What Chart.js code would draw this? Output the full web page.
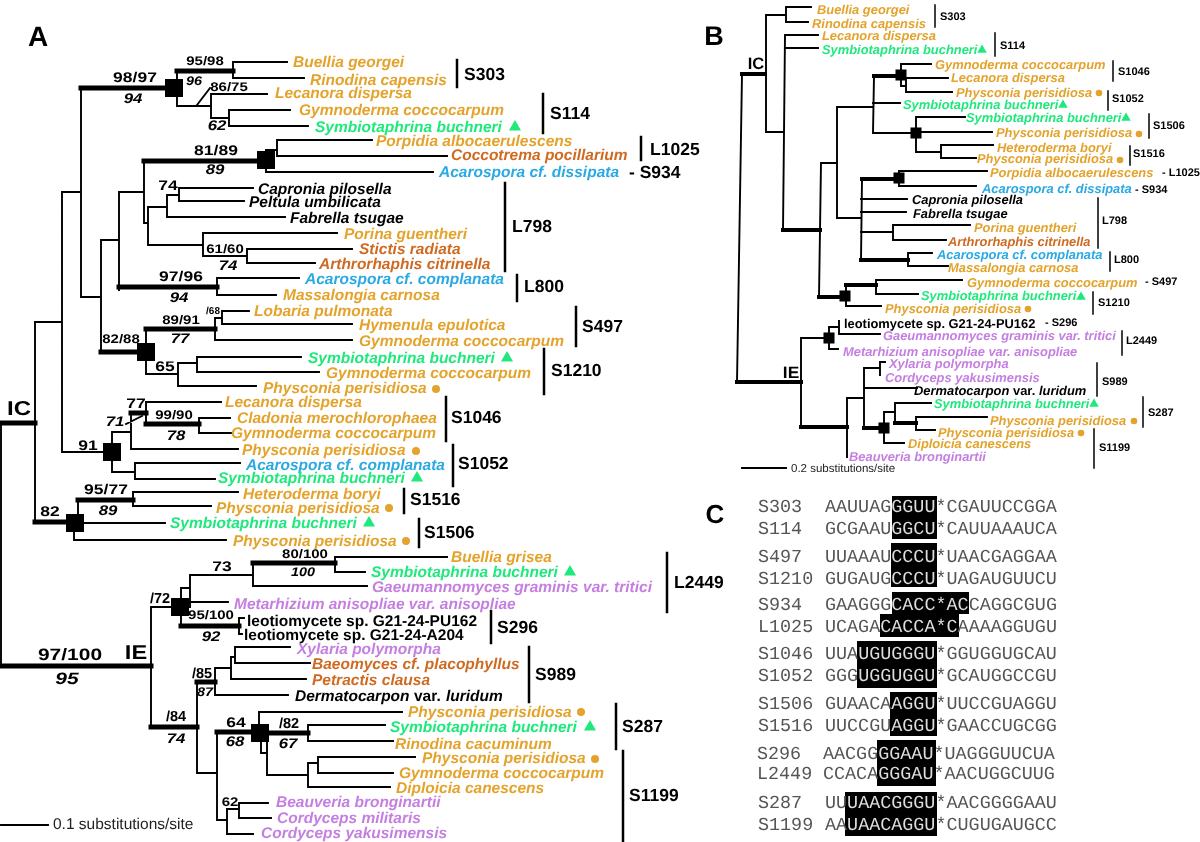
<!DOCTYPE html>
<html>
<head>
<meta charset="utf-8">
<title>Intron phylogeny</title>
<script src="https://cdn.jsdelivr.net/npm/chart.js@4"></script>
<style>
  body { margin: 0; background: #fff; }
  #wrap { width: 1200px; height: 842px; }
  /* the source figure is a soft jpeg */
  #myChart { filter: blur(0.35px); }
</style>
</head>
<body>
<div id="wrap"><canvas id="myChart" width="1200" height="842"></canvas></div>
<script>
// tree branches, x1 y1 x2 y2 in figure units
const thinBranches = [
  // panel A, IC part
  [81,88,81,297],[81,297,101,297],[62,192,62,452],[62,192,81,192],[35,322,62,322],[35,322,35,522],[1,423,1,666],
  [177,71,177,106],[177,106,211,106],[211,94,211,118],[211,94,267,94],[211,118,229,118],[229,110,229,126],[229,110,290,110],[229,126,308,126],
  [233,62,233,78],[233,62,287,62],[233,78,304,78],[197,105,210,88],
  [101,240,101,352],[101,240,119,240],[119,192,119,287],[119,192,144,192],[144,161,144,223],
  [266,150,266,172],[266,150,277,150],[277,140,277,156],[277,140,372,140],[277,156,447,156],[266,172,433,172],
  [144,223,148,223],[148,207,148,245],[148,207,167,207],[167,195,167,217],[167,195,179,195],[179,188,179,201],[179,188,253,188],[179,201,244,201],[167,217,285,217],
  [148,245,203,245],[203,233,203,256],[203,233,337,233],[203,256,247,256],[247,249,247,263],[247,249,352,249],[247,263,315,263],
  [119,287,119,290],[217,278,217,295],[217,278,299,278],[217,295,276,295],
  [146,329,146,374],[215,318,215,340],[215,318,222,318],[222,311,222,324],[222,311,249,311],[222,324,352,324],[215,340,352,340],
  [146,374,178,374],[178,363,178,386],[178,363,197,363],[197,357,197,372],[197,357,301,357],[197,372,319,372],[178,386,256,386],
  [62,452,103,452],[112,432,112,472],[112,432,131,432],[131,413,131,449],[146,402,146,424],[146,402,221,402],[199,418,199,433],[199,418,230,418],[199,433,231,433],[131,449,238,449],
  [112,472,135,472],[135,463,135,479],[135,463,240,463],[135,479,215,479],[126,424,142,416],
  [78,500,78,514],[133,492,133,506],[133,492,238,492],[133,506,211,506],[75,523,165,523],[74,523,74,540],[74,540,226,540],
  // panel A, IE part
  [151,607,151,727],[151,607,172,607],[190,575,190,607],[190,575,253,575],[253,563,253,586],[335,557,335,572],[335,557,447,557],[335,572,365,572],[253,586,367,586],
  [189,602,228,602],[181,588,190,588],[181,588,181,607],[181,607,181,626],[239,618,239,634],[239,618,244,618],[239,634,242,634],
  [197,682,197,773],[215,668,215,695],[215,668,231,668],[231,657,231,679],[231,657,235,657],[235,647,235,663],[235,647,290,647],[235,663,310,663],[231,679,306,679],[215,695,288,695],
  [197,773,217,773],[217,732,217,820],[259,712,259,724],[259,712,402,712],[308,725,308,741],[308,725,385,725],[308,741,393,741],
  [267,742,267,775],[261,742,261,753],[261,753,267,753],[267,775,308,775],[308,763,308,787],[308,763,318,763],[318,757,318,773],[318,757,415,757],[318,773,393,773],[308,787,390,787],
  [217,820,227,820],[227,809,227,834],[227,809,239,809],[239,803,239,818],[239,803,268,803],[239,818,271,818],[227,834,253,834],
  // panel A scale
  [1,825,48,825],
  // panel B, IC part
  [742,74,737,382],[766,15,766,132],[766,15,786,15],[786,7,786,22],[786,7,811,7],[786,22,808,22],[766,132,784,132],[785,35,783,230],[785,35,818,35],[785,48,818,48],
  [821,163,819,297],[821,163,837,163],[837,107,837,218],[837,107,873,107],[874,76,873,133],[901,64,901,86],[901,64,931,64],[906,78,948,78],[906,78,906,92],[901,86,906,86],[906,92,952,92],[873,103,900,103],
  [874,133,911,133],[916,117,916,152],[916,117,965,117],[922,132,992,132],[916,152,941,152],[941,145,941,158],[941,145,993,145],[941,158,976,158],
  [837,218,861,218],[862,179,861,260],[899,171,899,186],[899,171,987,171],[899,186,976,186],[861,199,907,199],[861,212,906,212],[861,232,893,232],[893,225,893,240],[893,225,970,225],[893,240,946,240],
  [908,253,908,266],[908,253,932,253],[908,266,948,266],[846,285,846,306],[876,280,876,294],[876,280,962,280],[876,294,918,294],[846,306,881,306],
  // panel B, IE part
  [801,338,801,427],[801,338,824,338],[829,327,829,349],[829,327,839,327],[839,321,839,334],[839,334,880,334],[829,349,838,349],
  [847,398,847,457],[847,398,864,398],[864,368,864,428],[864,368,880,368],[880,362,880,375],[880,362,885,362],[864,388,917,388],
  [884,412,884,443],[884,412,895,412],[895,403,895,423],[895,403,931,403],[916,417,916,430],[916,417,987,417],[916,430,935,430],[884,443,904,443],
  // panel B scale
  [742,468,786,468]
];

const thickBranchesA = [
  [81,88,170,88],[177,71,233,71],[144,161,262,161],[119,287,217,287],[101,352,140,352],[146,329,215,329],[131,413,146,413],[146,424,199,424],[35,522,72,522],[78,500,133,500],
  [1,423,35,423],[1,666,151,666],[253,563,335,563],[181,626,239,626],[151,727,197,727],[197,682,215,682],[217,732,255,732],[265,733,308,733]
];
const thickBranchesB = [
  [742,74,765,74],[737,382,801,382],[783,230,820,230],[874,76,895,76],[862,179,895,179],[861,260,908,260],[819,297,842,297],[846,285,876,285],[801,427,847,427],[864,428,881,428],[895,423,916,423]
];

// clade bars next to the intron names
const groupBarsA = [
  [457,60,457,87],[543,94,543,133],[641,137,641,160],[505,183,505,271],[517,275,517,301],[576,307,576,346],[544,349,544,394],[446,397,446,441],
  [453,445,453,486],[404,489,404,513],[419,519,419,547],[667,553,667,612],[491,611,491,643],[529,647,529,702],[616,704,616,749],[623,751,623,842]
];
const groupBarsB = [
  [935,5,935,27],[995,33,995,56],[1113,61,1113,81],[1108,91,1108,110],[1149,114,1149,138],[1130,146,1130,165],[1098,198,1098,248],[1110,252,1110,271],
  [1093,292,1093,314],[1122,331,1122,355],[1097,363,1097,396],[1143,397,1143,427],[1094,429,1094,468]
];

const nodesA = [[174,88],[266,160],[146,352],[112,452],[75,523],[180,607],[260,733]];
const nodesB = [[901,75],[916,133],[899,178],[845,296],[829,338],[884,428]];

const hostTrianglesA = [[515,127],[507,358],[417,478],[369,523],[570,572],[590,727]];
const hostTrianglesB = [[982,50],[1063,105],[1126,118],[1081,297],[1094,404]];
const hostDotsA = [[436,389],[416,451],[389,508],[406,541],[581,712],[595,759]];
const hostDotsB = [[1099,93],[1139,134],[1120,160],[1028,309],[1134,421],[1081,433]];

// taxon names by colour, x > 700 belongs to panel B
const orangeTaxa = [
  ['Buellia georgei',293,62],['Rinodina capensis',310,80],['Lecanora dispersa',275,93],['Gymnoderma coccocarpum',299,110],['Porpidia albocaerulescens',376,141],
  ['Porina guentheri',344,234],['Massalongia carnosa',283,295],['Lobaria pulmonata',254,311],['Hymenula epulotica',359,325],['Gymnoderma coccocarpum',359,341],
  ['Gymnoderma coccocarpum',326,373],['Physconia perisidiosa',263,388],['Lecanora dispersa',225,402],['Cladonia merochlorophaea',237,418],['Gymnoderma coccocarpum',231,433],
  ['Physconia perisidiosa',242,450],['Heteroderma boryi',243,494],['Physconia perisidiosa',216,508],['Physconia perisidiosa',233,541],['Buellia grisea',451,557],
  ['Physconia perisidiosa',408,712],['Rinodina cacuminum',395,744],['Physconia perisidiosa',422,758],['Gymnoderma coccocarpum',399,773],['Diploicia canescens',396,788],
  ['Buellia georgei',817,9],['Rinodina capensis',812,23],['Lecanora dispersa',822,35],['Gymnoderma coccocarpum',935,64],['Lecanora dispersa',951,77],['Physconia perisidiosa',956,92],
  ['Physconia perisidiosa',996,132],['Heteroderma boryi',997,147],['Physconia perisidiosa',977,158],['Porpidia albocaerulescens',990,172],['Porina guentheri',974,227],
  ['Massalongia carnosa',948,267],['Gymnoderma coccocarpum',967,282],['Physconia perisidiosa',885,308],['Physconia perisidiosa',990,420],['Physconia perisidiosa',938,432],['Diploicia canescens',908,443]
];
const rustTaxa = [
  ['Coccotrema pocillarium',451,155],['Stictis radiata',359,249],['Arthrorhaphis citrinella',319,264],['Baeomyces cf. placophyllus',312,664],['Petractis clausa',312,680],
  ['Arthrorhaphis citrinella',948,241]
];
const blueTaxa = [
  ['Acarospora cf. dissipata',439,172],['Acarospora cf. complanata',305,279],['Acarospora cf. complanata',246,465],
  ['Acarospora cf. dissipata',982,188],['Acarospora cf. complanata',937,254]
];
const greenTaxa = [
  ['Symbiotaphrina buchneri',315,127],['Symbiotaphrina buchneri',308,358],['Symbiotaphrina buchneri',218,478],['Symbiotaphrina buchneri',170,523],['Symbiotaphrina buchneri',371,572],['Symbiotaphrina buchneri',390,727],
  ['Symbiotaphrina buchneri',822,49],['Symbiotaphrina buchneri',903,104],['Symbiotaphrina buchneri',966,117],['Symbiotaphrina buchneri',921,295],['Symbiotaphrina buchneri',934,403]
];
const purpleTaxa = [
  ['Gaeumannomyces graminis var. tritici',372,587],['Metarhizium anisopliae var. anisopliae',234,604],['Xylaria polymorpha',297,649],['Beauveria bronginartii',276,802],['Cordyceps militaris',277,818],['Cordyceps yakusimensis',261,833],
  ['Gaeumannomyces graminis var. tritici',883,335],['Metarhizium anisopliae var. anisopliae',843,351],['Xylaria polymorpha',889,363],['Cordyceps yakusimensis',885,377],['Beauveria bronginartii',849,456]
];
const blackTaxa = [
  ['Capronia pilosella',258,189],['Peltula umbilicata',249,202],['Fabrella tsugae',290,218],['Dermatocarpon',295,696],['luridum',446,696],
  ['Capronia pilosella',912,199],['Fabrella tsugae',913,213],['Dermatocarpon',914,390],['luridum',1039,390]
];
const blackUpright = [
  ['leotiomycete sp. G21-24-PU162',247,621],['leotiomycete sp. G21-24-A204',244,635],['var.',414,696],
  ['leotiomycete sp. G21-24-PU162',844,323],['var.',1013,390]
];

// support values, x is the centre of the text
const supportBig = [
  ['98/97',135,78],['81/89',216,151],['74',168,186],['97/96',181,277],['65',165,367],['77',136,404],['91',88,446],['95/77',106,490],['82',50,512],['73',222,567],['64',236,723]
];
const supportSmall = [
  ['95/98',205,62],['86/75',229,88],['61/60',225,250],['89/91',181,321],['82/88',121,340],['99/90',174,416],['80/100',305,555],['95/100',211,616],['62',230,803]
];
const supportSlash = [['/72',160,599],['/85',202,674],['/84',176,717],['/82',289,724]];
const supportItalicBig = [
  ['94',133,99],['89',215,170],['62',217,126],['74',228,266],['94',179,298],['77',180,339],['71',115,422],['78',176,436],['89',108,511],['92',211,637],['74',176,739],['68',235,742],['67',288,744]
];
const supportItalicSmall = [['96',194,82],['100',303,573],['87',205,693]];

const groupNamesA = [
  ['S303',464,75],['S114',550,114],['L1025',650,150],['- S934',629,173],['L798',512,227],['L800',524,287],['S497',582,327],['S1210',551,371],['S1046',451,418],
  ['S1052',458,464],['S1516',410,500],['S1506',424,533],['L2449',674,583],['S296',497,628],['S989',535,675],['S287',622,727],['S1199',629,796]
];
const groupNamesB = [
  ['S303',940,17],['S114',1000,46],['S1046',1118,72],['S1052',1112,99],['S1506',1153,126],['S1516',1133,154],['- L1025',1162,173],['- S934',1135,190],['L798',1102,221],['L800',1114,260],
  ['- S497',1145,282],['S1210',1098,303],['- S296',1045,323],['L2449',1126,341],['S989',1102,382],['S287',1148,413],['S1199',1099,448]
];

// panel C, name, before, highlighted, after, row y, name x, sequence x
const seqRows = [
  ['S303','AAUUAG','GGUU','*CGAUUCCGGA',507,758,825],
  ['S114','GCGAAU','GGCU','*CAUUAAAUCA',529,758,825],
  ['S497','UUAAAU','CCCU','*UAACGAGGAA',557,758,825],
  ['S1210','GUGAUG','CCCU','*UAGAUGUUCU',579,758,825],
  ['S934','GAAGGG','CACC*AC','CAGGCGUG',605,758,825],
  ['L1025','UCAGA','CACCA*C','AAAAGGUGU',627,758,825],
  ['S1046','UUA','UGUGGGU','*GGUGGUGCAU',654,758,825],
  ['S1052','GGG','UGGUGGU','*GCAUGGCCGU',676,758,825],
  ['S1506','GUAACA','AGGU','*UUCCGUAGGU',704,758,825],
  ['S1516','UUCCGU','AGGU','*GAACCUGCGG',726,758,825],
  ['S296','AACGG','GGAAU','*UAGGGUUCUA',754,757,823],
  ['L2449','CCACA','GGGAU','*AACUGGCUUG',774,757,823],
  ['S287','UU','UAACGGGU','*AACGGGGAAU',803,758,825],
  ['S1199','AA','UAACAGGU','*CUGUGAUGCC',825,758,825]
];
// black boxes behind the highlighted bases, x1 x2 top bottom
const seqBoxes = [
  [892,937,496,539],[891,937,543,587],[892,969,592,614],[880,959,614,637],
  [857,937,641,688],[890,937,692,736],[877,936,740,786],[845,937,792,836]
];

const panelLetters = [['A',38,38,28],['B',714,38,27],['C',715,516,26]];

const SANS = '"Liberation Sans", Arial, sans-serif';
const MONO = '"Liberation Mono", "Courier New", monospace';
const colors = { orange: '#e3a32c', rust: '#cf6a22', blue: '#2aa9e2', green: '#1fe87c', purple: '#c47fe0', ink: '#000' };

function segments(list) {
  const pts = [];
  list.forEach(s => {
    pts.push({x: s[0], y: s[1]}, {x: s[2], y: s[3]}, {x: s[2], y: null});
  });
  return pts;
}
function lineSet(list, width) {
  return {
    type: 'scatter', data: segments(list), showLine: true, spanGaps: false, pointRadius: 0, clip: false,
    borderColor: colors.ink, borderWidth: width, borderCapStyle: 'square', tension: 0
  };
}
function markerSet(list, style, radius, color) {
  return {
    type: 'scatter', data: list.map(p => ({x: p[0], y: p[1]})), showLine: false, clip: false,
    pointStyle: style, pointRadius: radius, pointBackgroundColor: color, pointBorderWidth: 0
  };
}
function boxSet(b) {
  const mid = (b[2] + b[3]) / 2;
  return {
    type: 'scatter', data: [{x: b[0], y: mid}, {x: b[1], y: mid}], showLine: true, pointRadius: 0, clip: false,
    borderColor: '#000', borderWidth: b[3] - b[2], borderCapStyle: 'butt'
  };
}

const textPlugin = {
  id: 'figureText',
  afterDatasetsDraw(chart) {
    const ctx = chart.ctx;
    const sx = chart.scales.x, sy = chart.scales.y;

    function put(text, x, y, font, color, align, stretch) {
      ctx.save();
      ctx.textRendering = 'geometricPrecision';
      ctx.font = font;
      ctx.fillStyle = color;
      ctx.textAlign = align || 'left';
      ctx.textBaseline = 'middle';
      ctx.translate(sx.getPixelForValue(x), sy.getPixelForValue(y));
      ctx.scale(stretch || 1, 1);
      ctx.fillText(text, 0, 0);
      ctx.restore();
    }
    function taxa(list, color, style) {
      list.forEach(t => {
        const size = t[1] > 700 ? 12.9 : 15.5;
        put(t[0], t[1], t[2] + 1, `${style} ${size}px ${SANS}`, color);
      });
    }

    taxa(orangeTaxa, colors.orange, 'italic bold');
    taxa(rustTaxa, colors.rust, 'italic bold');
    taxa(blueTaxa, colors.blue, 'italic bold');
    taxa(greenTaxa, colors.green, 'italic bold');
    taxa(purpleTaxa, colors.purple, 'italic bold');
    taxa(blackTaxa, colors.ink, 'italic bold');
    taxa(blackUpright, colors.ink, 'bold');

    supportBig.forEach(t => put(t[0], t[1], t[2], `bold 14px ${SANS}`, colors.ink, 'center', 1.25));
    supportSmall.forEach(t => put(t[0], t[1], t[2], `bold 12.5px ${SANS}`, colors.ink, 'center', 1.2));
    supportSlash.forEach(t => put(t[0], t[1], t[2], `bold 14.5px ${SANS}`, colors.ink, 'center'));
    supportItalicBig.forEach(t => put(t[0], t[1], t[2], `italic bold 14px ${SANS}`, colors.ink, 'center', 1.2));
    supportItalicSmall.forEach(t => put(t[0], t[1], t[2], `italic bold 12.5px ${SANS}`, colors.ink, 'center', 1.15));
    put('/68', 213, 311, `bold 10px ${SANS}`, colors.ink, 'center');
    put('97/100', 70, 655, `bold 16.5px ${SANS}`, colors.ink, 'center', 1.27);
    put('95', 67, 679, `italic bold 16.5px ${SANS}`, colors.ink, 'center', 1.27);
    put('IC', 19, 409, `bold 20px ${SANS}`, colors.ink, 'center', 1.2);
    put('IE', 136, 653, `bold 20px ${SANS}`, colors.ink, 'center', 1.18);
    put('IC', 756, 64, `bold 16.5px ${SANS}`, colors.ink, 'center');
    put('IE', 791, 373, `bold 16.5px ${SANS}`, colors.ink, 'center', 1.05);

    groupNamesA.forEach(t => put(t[0], t[1], t[2], `bold 17.5px ${SANS}`, colors.ink));
    groupNamesB.forEach(t => put(t[0], t[1], t[2], `bold 11px ${SANS}`, colors.ink));

    put('0.1 substitutions/site', 53, 825, `15.5px ${SANS}`, '#222');
    put('0.2 substitutions/site', 791, 469, `11.5px ${SANS}`, '#222');

    panelLetters.forEach(t => put(t[0], t[1], t[2], `bold ${t[3]}px ${SANS}`, '#000', 'center'));

    // sequences, one colour per part, fixed character width
    const charW = 11.05;
    seqRows.forEach(r => {
      const font = `18.4px ${MONO}`;
      put(r[0], r[5], r[4], font, '#555');
      put(r[1], r[6], r[4], font, '#555');
      put(r[2], r[6] + r[1].length * charW, r[4], font, '#ddd');
      put(r[3], r[6] + (r[1].length + r[2].length) * charW, r[4], font, '#555');
    });
  }
};

const ctx = document.getElementById('myChart');

const chart = new Chart(ctx, {
  data: {
    datasets: [
      lineSet(thinBranches, 1.9),
      lineSet(thickBranchesA, 5),
      lineSet(thickBranchesB, 4),
      lineSet(groupBarsA, 2.5),
      lineSet(groupBarsB, 1.5),
      markerSet(nodesA, 'rect', 12.7, '#000'),
      markerSet(nodesB, 'rect', 7.8, '#000'),
      markerSet(hostTrianglesA, 'triangle', 7, colors.green),
      markerSet(hostTrianglesB, 'triangle', 5.5, colors.green),
      markerSet(hostDotsA, 'circle', 4, colors.orange),
      markerSet(hostDotsB, 'circle', 3.3, colors.orange),
      ...seqBoxes.map(boxSet)
    ]
  },
  options: {
    responsive: false,
    animation: false,
    layout: { padding: 0 },
    plugins: { legend: { display: false }, tooltip: { enabled: false } },
    scales: {
      x: { type: 'linear', min: 0, max: 1200, display: false },
      y: { type: 'linear', min: 0, max: 842, reverse: true, display: false }
    }
  },
  plugins: [textPlugin]
});

// thick lines make chart.js inset the plot area (only from the second update on),
// so update once, then line the axes up with canvas pixels
chart.update();
const area = chart.chartArea;
chart.options.scales.x.min = area.left;
chart.options.scales.x.max = area.right;
chart.options.scales.y.min = area.top;
chart.options.scales.y.max = area.bottom;
chart.update();
</script>
</body>
</html>
